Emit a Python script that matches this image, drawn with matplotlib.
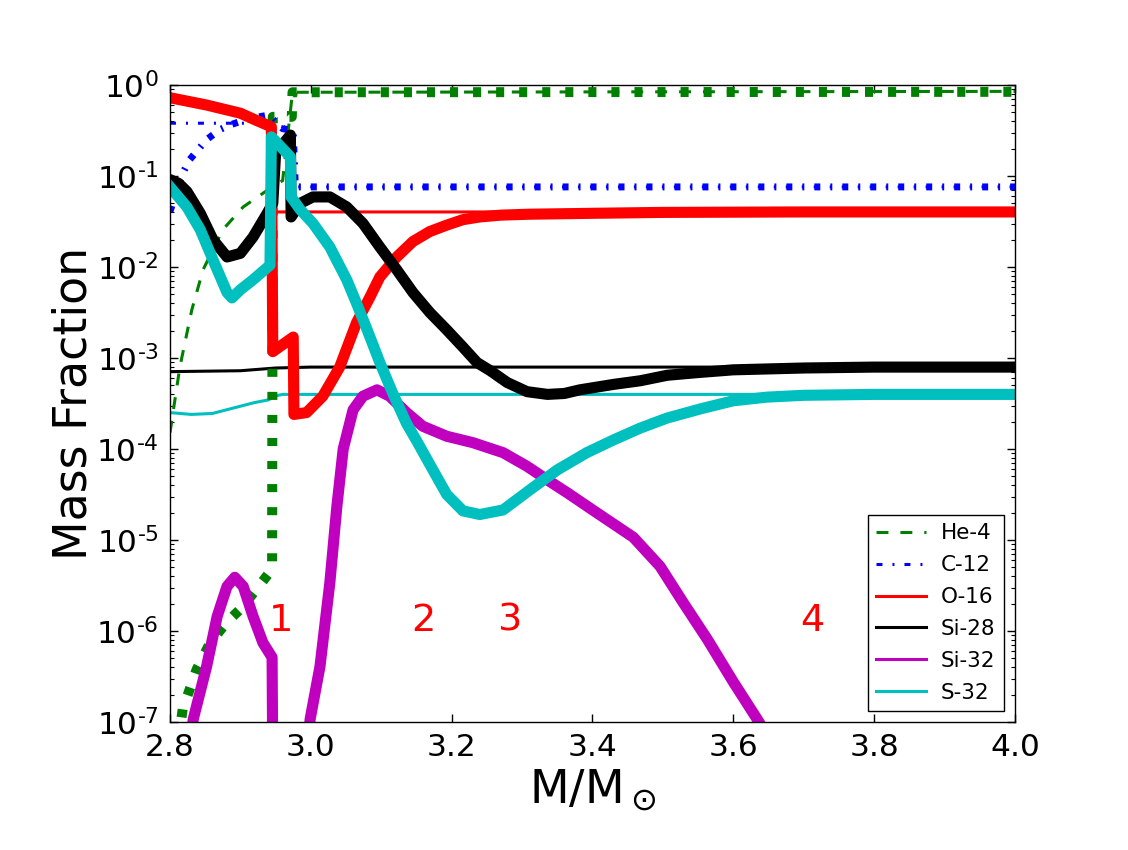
import numpy as np
import matplotlib
matplotlib.use("Agg")
import matplotlib.pyplot as plt
from matplotlib.ticker import FixedLocator, FuncFormatter

# Values: mass coordinate and log10 of mass fraction.
# "thin" = initial profile, "thick" = final profile.
he4_thin_x = [2.80, 2.814, 2.831, 2.847, 2.875, 2.904, 2.932, 2.945, 2.960, 2.974, 4.00]
he4_thin_log = [-3.82, -3.10, -2.47, -2.03, -1.59, -1.34, -1.19, -1.12, -1.05, -0.08, -0.07]
he4_thick_x = [2.812, 2.818, 2.838, 2.857, 2.881, 2.900, 2.923, 2.945, 2.946, 2.973, 2.974, 4.00]
he4_thick_log = [-7.2, -6.86, -6.42, -6.13, -5.90, -5.76, -5.54, -5.32, -0.35, -0.35, -0.08, -0.075]

c12_thin_x = [2.80, 2.945, 2.975, 2.978, 4.00]
c12_thin_log = [-0.42, -0.42, -0.50, -1.12, -1.12]
c12_thick_x = [2.80, 2.818, 2.828, 2.852, 2.871, 2.885, 2.900, 2.920, 2.940, 2.960, 2.975, 2.978, 4.00]
c12_thick_log = [-1.39, -0.97, -0.82, -0.60, -0.49, -0.44, -0.40, -0.36, -0.33, -0.48, -0.50, -1.12, -1.12]

o16_thin_x = [2.80, 2.852, 2.900, 2.920, 2.944, 2.946, 4.00]
o16_thin_log = [-0.14, -0.22, -0.31, -0.38, -0.46, -1.395, -1.395]
o16_thick_x = [2.80, 2.852, 2.900, 2.920, 2.944, 2.946, 2.975, 2.976, 2.994, 3.017, 3.041,
               3.065, 3.084, 3.098, 3.122, 3.145, 3.169, 3.193, 3.216, 3.240, 3.270, 3.310,
               3.400, 3.500, 3.700, 4.00]
o16_thick_log = [-0.14, -0.22, -0.31, -0.38, -0.46, -2.93, -2.77, -3.62, -3.60, -3.42, -3.10,
                 -2.61, -2.33, -2.11, -1.89, -1.72, -1.61, -1.54, -1.48, -1.45, -1.43, -1.42,
                 -1.41, -1.40, -1.395, -1.395]

si28_thin_x = [2.80, 2.90, 2.95, 3.00, 4.00]
si28_thin_log = [-3.15, -3.14, -3.11, -3.10, -3.10]
si28_thick_x = [2.80, 2.812, 2.824, 2.843, 2.861, 2.881, 2.900, 2.918, 2.938, 2.946, 2.950, 2.971,
                2.972, 2.985, 3.003, 3.027, 3.051, 3.074, 3.098, 3.122, 3.145, 3.169, 3.193,
                3.216, 3.236, 3.255, 3.279, 3.307, 3.336, 3.360, 3.382, 3.430, 3.468, 3.506,
                3.550, 3.600, 3.700, 3.800, 4.00]
si28_thick_log = [-1.04, -1.08, -1.17, -1.41, -1.70, -1.89, -1.85, -1.67, -1.41, -1.30, -0.75, -0.55,
                  -1.45, -1.30, -1.23, -1.23, -1.34, -1.52, -1.78, -2.03, -2.28, -2.50, -2.69,
                  -2.88, -3.05, -3.14, -3.27, -3.37, -3.40, -3.39, -3.35, -3.29, -3.25, -3.19,
                  -3.16, -3.13, -3.11, -3.10, -3.10]

si32_thick_x = [2.830, 2.833, 2.852, 2.867, 2.881, 2.892, 2.904, 2.918, 2.932, 2.945, 2.946,
                np.nan,
                2.997, 2.999, 3.013, 3.027, 3.037, 3.046, 3.060, 3.074, 3.094, 3.112, 3.136,
                3.159, 3.193, 3.230, 3.273, 3.307, 3.336, 3.364, 3.406, 3.458, 3.496, 3.529,
                3.563, 3.600, 3.634, 3.660]
si32_thick_log = [-7.2, -6.97, -6.39, -5.84, -5.51, -5.41, -5.51, -5.84, -6.13, -6.29, -7.5,
                  np.nan,
                  -7.2, -6.97, -6.39, -5.47, -4.63, -4.00, -3.57, -3.42, -3.35, -3.42, -3.60,
                  -3.75, -3.86, -3.93, -4.04, -4.19, -4.34, -4.48, -4.70, -4.97, -5.29, -5.69,
                  -6.09, -6.56, -6.97, -7.3]

s32_thin_x = [2.80, 2.83, 2.86, 2.88, 2.92, 2.94, 2.948, 2.96, 4.00]
s32_thin_log = [-3.60, -3.62, -3.61, -3.57, -3.49, -3.46, -3.42, -3.40, -3.40]
s32_thick_x = [2.80, 2.824, 2.843, 2.861, 2.881, 2.888, 2.900, 2.918, 2.942, 2.944, 2.971,
               2.972, 2.985, 3.003, 3.027, 3.051, 3.065, 3.080, 3.098, 3.117, 3.136, 3.151,
               3.169, 3.193, 3.216, 3.240, 3.273, 3.311, 3.350, 3.392, 3.430, 3.468, 3.506,
               3.553, 3.600, 3.648, 3.700, 3.800, 4.00]
s32_thick_log = [-1.12, -1.34, -1.59, -1.92, -2.28, -2.34, -2.25, -2.14, -1.98, -0.57, -0.79,
                 -1.23, -1.37, -1.52, -1.78, -2.14, -2.40, -2.69, -3.05, -3.40, -3.72, -3.92,
                 -4.17, -4.50, -4.68, -4.72, -4.67, -4.45, -4.23, -4.04, -3.90, -3.77, -3.66,
                 -3.56, -3.47, -3.43, -3.41, -3.40, -3.40]

zone_labels = ["1", "2", "3", "4"]
zone_x = [2.94, 3.142, 3.265, 3.695]

x_ticks = [2.8, 3.0, 3.2, 3.4, 3.6, 3.8, 4.0]
y_decades = [-7, -6, -5, -4, -3, -2, -1, 0]


def frac(logs):
    return 10.0 ** np.asarray(logs, dtype=float)


def decade_label(v, pos):
    e = int(round(np.log10(v)))
    if e < 0:
        return r'$10^{\text{-}%d}$' % (-e)
    return r'$10^{%d}$' % e


plt.rcParams['axes.unicode_minus'] = False
plt.rcParams['lines.scale_dashes'] = False
plt.rcParams['font.family'] = 'DejaVu Sans'

fig = plt.figure(figsize=(11.28, 8.5), dpi=100)
ax = fig.add_axes([0.1507, 0.1506, 0.7491, 0.7494])

thin = 2.2
thick = 8.0
dash = (0, (8.6, 8.6))
dashdot = (0, (4.3, 7.2, 1.44, 7.2))

# Thin (initial) profiles first, thick ones drawn over them.
ax.plot(he4_thin_x, frac(he4_thin_log), color='g', lw=thin, linestyle=dash, label='He-4')
ax.plot(c12_thin_x, frac(c12_thin_log), color='b', lw=thin, linestyle=dashdot, label='C-12')
ax.plot(o16_thin_x, frac(o16_thin_log), color='r', lw=thin, label='O-16')
ax.plot(si28_thin_x, frac(si28_thin_log), color='k', lw=thin, label='Si-28')
ax.plot([], [], color='m', lw=thin, label='Si-32')
ax.plot(s32_thin_x, frac(s32_thin_log), color='c', lw=thin, label='S-32')

ax.plot(he4_thick_x, frac(he4_thick_log), color='g', lw=7.2, linestyle=(0, (5.8, 10.8)))
ax.plot(c12_thick_x, frac(c12_thick_log), color='b', lw=5.0, linestyle=dashdot)
ax.plot(o16_thick_x, frac(o16_thick_log), color='r', lw=thick)
ax.plot(si28_thick_x, frac(si28_thick_log), color='k', lw=thick)
ax.plot(si32_thick_x, frac(si32_thick_log), color='m', lw=thick)
ax.plot(s32_thick_x, frac(s32_thick_log), color='c', lw=thick)

for lab, xz in zip(zone_labels, zone_x):
    ax.text(xz, 1e-6, lab, color='r', fontsize=27.5, ha='left', va='baseline')

ax.set_yscale('log')
ax.set_xlim(2.8, 4.0)
ax.set_ylim(1e-7, 1.0)
ax.set_xticks(x_ticks)
ax.set_xticklabels(["%.1f" % v for v in x_ticks])
ax.yaxis.set_major_locator(FixedLocator([10.0 ** e for e in y_decades]))
ax.yaxis.set_major_formatter(FuncFormatter(decade_label))

ax.tick_params(which='both', direction='in', top=True, right=True, labelsize=22.5)
ax.tick_params(which='major', length=6, width=1.0, pad=8)
ax.tick_params(which='minor', length=3, width=0.8)
ax.tick_params(axis='x', which='minor', bottom=False, top=False)
for sp in ax.spines.values():
    sp.set_linewidth(1.0)

ax.set_xlabel(r'M/M$_\odot$', fontsize=33, labelpad=4)
ax.set_ylabel('Mass Fraction', fontsize=33, labelpad=0)

leg = ax.legend(loc='lower right', fontsize=15.5, handlelength=2.3, handletextpad=0.7,
                labelspacing=0.55, fancybox=False, framealpha=1.0, edgecolor='k',
                borderaxespad=0.5)
leg.get_frame().set_linewidth(1.0)

fig.savefig('out.png', dpi=100)
